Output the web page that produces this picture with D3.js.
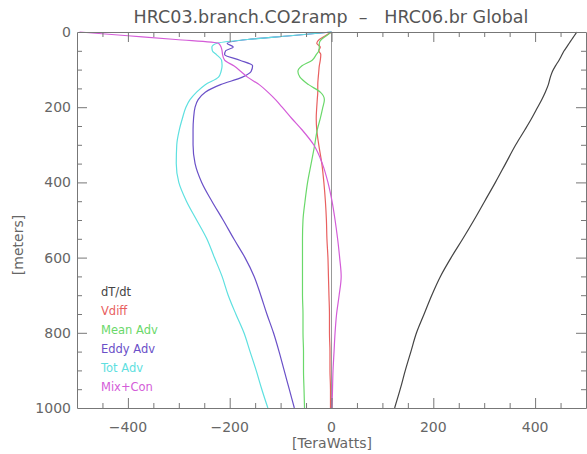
<!DOCTYPE html>
<html>
<head>
<meta charset="utf-8">
<script src="https://cdn.jsdelivr.net/npm/d3@7"></script>
<style>
  body { margin: 0; background: #fff; }
  svg { display: block; font-family: "DejaVu Sans", sans-serif; }
</style>
</head>
<body>
<svg width="587" height="454"></svg>
<script>
// depth levels (meters)
var depths = [0, 10, 20, 30, 40, 50, 60, 75, 90, 105, 120, 140, 160, 180, 200, 230, 260, 300,
  350, 400, 450, 500, 550, 600, 650, 700, 750, 800, 850, 900, 950, 1000];

// TeraWatts, one value per depth
var dTdt    = [482, 477, 472, 467, 462, 457, 453, 447, 440, 434, 430, 426, 420, 413, 405, 393, 380, 362,
  342, 322, 301, 280, 258, 235, 214, 197, 182, 167, 156, 145, 135, 124];
var vdiff   = [0, -12, -24, -29, -22, -25, -21, -22, -24, -25, -26, -27, -27, -28, -29, -30, -29, -25,
  -19, -15, -12, -10, -9, -7, -6, -5, -4, -4, -3, -3, -2, -2];
var meanAdv = [0, -10, -20, -24, -24, -25, -30, -38, -58, -66, -62, -45, -22, -14, -17, -22, -28, -33,
  -40, -47, -52, -56, -57, -57, -57, -57, -56, -56, -55, -55, -54, -53];
var eddyAdv = [0, -80, -165, -205, -193, -208, -210, -180, -155, -158, -175, -218, -248, -262, -268, -271, -272, -272,
  -268, -255, -235, -213, -192, -170, -152, -139, -127, -114, -103, -93, -83, -73];
var totAdv  = [0, -82, -165, -225, -235, -234, -226, -216, -215, -217, -222, -248, -265, -278, -286, -293, -299, -304,
  -305, -300, -285, -265, -245, -230, -215, -203, -188, -172, -160, -148, -137, -125];
var mixCon  = [-495, -400, -306, -222, -217, -215, -214, -210, -192, -178, -165, -142, -125, -110, -97, -78, -58, -35,
  -18, -7, 1, 7, 12, 16, 19, 15, 10, 7, 5, 3, 2, 1];

var names  = ["dT/dt", "Vdiff", "Mean Adv", "Eddy Adv", "Tot Adv", "Mix+Con"];
var colors = ["#444444", "#e86060", "#6ad86a", "#6a50c8", "#5ee0e0", "#d45cd8"];
var series = [dTdt, vdiff, meanAdv, eddyAdv, totAdv, mixCon];

var xTicks = [-400, -200, 0, 200, 400];
var yTicks = [0, 200, 400, 600, 800, 1000];

var svg = d3.select("svg");
var mLeft = 77, mRight = 586, mTop = 32, mBottom = 408;

var x = d3.scaleLinear().domain([-500, 500]).range([mLeft, mRight]);
var y = d3.scaleLinear().domain([0, 1000]).range([mTop, mBottom]);

var axisColor = "#777";
var textColor = "#666";

// zero line
svg.append("line")
  .attr("x1", x(0)).attr("x2", x(0))
  .attr("y1", mTop).attr("y2", mBottom)
  .attr("stroke", "#999").attr("stroke-width", 1);

// curves (depth is monotonic, so smooth along y)
var line = d3.line()
  .x(function(d) { return x(d[0]); })
  .y(function(d) { return y(d[1]); })
  .curve(d3.curveMonotoneY);

var plot = svg.append("g");
series.forEach(function(vals, i) {
  plot.append("path")
    .datum(vals.map(function(v, j) { return [v, depths[j]]; }))
    .attr("d", line)
    .attr("fill", "none")
    .attr("stroke", colors[i])
    .attr("stroke-width", 1.2);
});

// axes: box with inward ticks, labels drawn separately
var minorX = d3.range(-450, 500, 50);
var minorY = d3.range(50, 1000, 50);

function addAxis(axis, transform, ticks, major, dir) {
  var g = svg.append("g").attr("transform", transform)
    .call(axis.tickValues(ticks).tickSizeInner(0).tickSizeOuter(0).tickFormat(""));
  g.select(".domain").attr("stroke", axisColor);
  g.selectAll(".tick line").remove();
  g.selectAll(".tick text").remove();
  g.selectAll(".tick").append("line")
    .attr("stroke", axisColor)
    .each(function(d) {
      var len = major.indexOf(d) >= 0 ? 10 : 5;
      var s = d3.select(this);
      if (dir === "b") s.attr("y2", -len);
      if (dir === "t") s.attr("y2", len);
      if (dir === "l") s.attr("x2", len);
      if (dir === "r") s.attr("x2", -len);
    });
  return g;
}

addAxis(d3.axisBottom(x), "translate(0," + mBottom + ")", minorX, xTicks, "b");
addAxis(d3.axisTop(x), "translate(0," + mTop + ")", minorX, xTicks, "t");
addAxis(d3.axisLeft(y), "translate(" + mLeft + ",0)", minorY, yTicks, "l");
addAxis(d3.axisRight(y), "translate(" + mRight + ",0)", minorY, yTicks, "r");

// tick labels
svg.append("g").selectAll("text")
  .data(xTicks).enter().append("text")
    .attr("x", function(d) { return x(d); })
    .attr("y", 432)
    .attr("text-anchor", "middle")
    .attr("fill", textColor)
    .style("font-size", "14px")
    .text(function(d) { return d < 0 ? "\u2212" + Math.abs(d) : d; });

svg.append("g").selectAll("text")
  .data(yTicks).enter().append("text")
    .attr("x", 71)
    .attr("y", function(d) { return y(d) + 5; })
    .attr("text-anchor", "end")
    .attr("fill", textColor)
    .style("font-size", "14px")
    .text(function(d) { return d; });

// titles
svg.append("text")
  .attr("x", 331).attr("y", 23)
  .attr("text-anchor", "middle")
  .attr("fill", "#555")
  .style("font-size", "17.5px")
  .style("white-space", "pre")
  .text("HRC03.branch.CO2ramp  \u2013   HRC06.br Global");

svg.append("text")
  .attr("x", 332).attr("y", 448)
  .attr("text-anchor", "middle")
  .attr("fill", textColor)
  .style("font-size", "14px")
  .text("[TeraWatts]");

svg.append("text")
  .attr("transform", "translate(23,245) rotate(-90)")
  .attr("text-anchor", "middle")
  .attr("fill", textColor)
  .style("font-size", "14px")
  .text("[meters]");

// legend
svg.append("g").selectAll("text")
  .data(names).enter().append("text")
    .attr("x", 101)
    .attr("y", function(d, i) { return 296 + i * 19; })
    .attr("fill", function(d, i) { return colors[i]; })
    .style("font-size", "11.5px")
    .text(function(d) { return d; });
</script>
</body>
</html>
